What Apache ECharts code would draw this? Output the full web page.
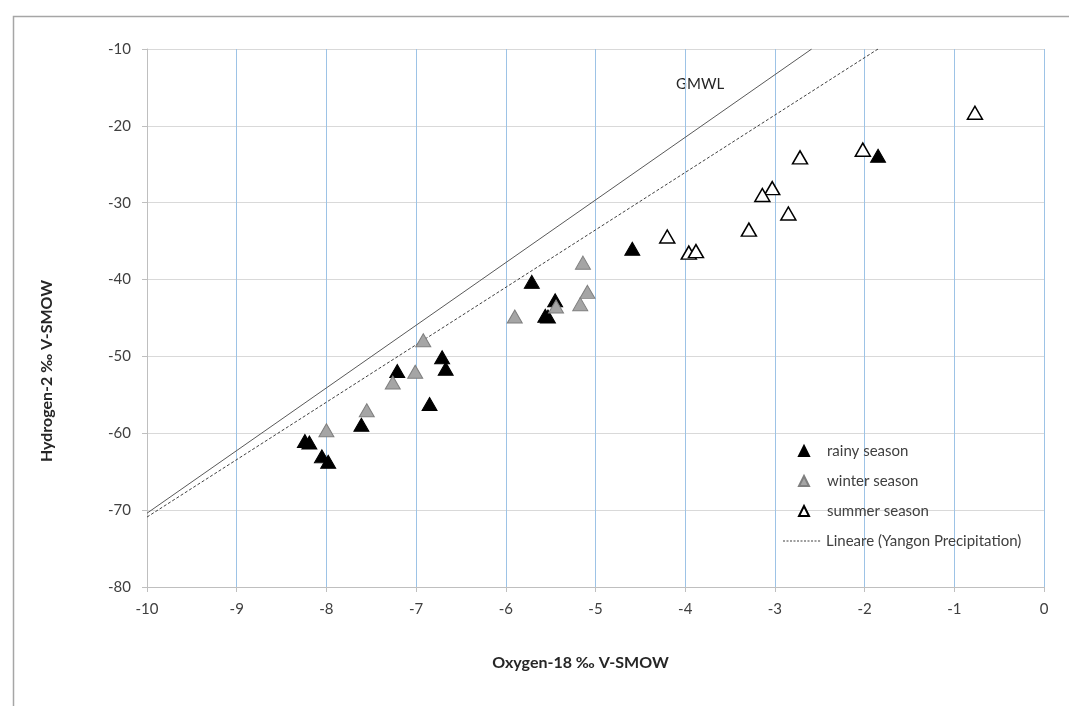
<!DOCTYPE html>
<html>
<head>
<meta charset="utf-8">
<script src="https://cdn.jsdelivr.net/npm/echarts@6/dist/echarts.min.js"></script>
<style>html,body{margin:0;padding:0;background:#fff;}#c{width:1069px;height:706px;}</style>
</head>
<body>
<div id="c"></div>
<script>
// Rainy season samples (δ18O, δ2H)
const rainyX = [-8.24, -8.19, -8.05, -7.98, -7.61, -7.21, -6.71, -6.67, -6.85, -5.71, -5.45, -5.56, -5.53, -4.59, -1.85];
const rainyY = [-61.0, -61.2, -63.0, -63.7, -58.9, -51.9, -50.1, -51.6, -56.2, -40.3, -42.7, -44.7, -44.8, -36.0, -23.9];
// Winter season samples
const winterX = [-8.00, -7.55, -7.26, -7.01, -6.92, -5.90, -5.44, -5.17, -5.09, -5.14];
const winterY = [-59.6, -57.0, -53.4, -52.0, -47.9, -44.8, -43.5, -43.2, -41.6, -37.8];
// Summer season samples
const summerX = [-0.77, -2.02, -2.72, -3.03, -3.14, -2.85, -3.29, -4.20, -3.96, -3.88];
const summerY = [-18.3, -23.1, -24.1, -28.1, -29.0, -31.4, -33.5, -34.4, -36.5, -36.3];
// Global meteoric water line (end points)
const gmwlX = [-10, -2.59];
const gmwlY = [-70.4, -10];
// Linear trend of Yangon precipitation (end points)
const trendX = [-10, -1.85];
const trendY = [-70.9, -10];
// Axis ticks
const xTicks = [-10, -9, -8, -7, -6, -5, -4, -3, -2, -1, 0];
const yTicks = [-80, -70, -60, -50, -40, -30, -20, -10];

const seriesNames = ['rainy season', 'winter season', 'summer season', 'Lineare (Yangon Precipitation)'];

const zip = (xs, ys) => xs.map((x, i) => [x, ys[i]]);
const FONT = 'Lato, "Liberation Sans", sans-serif';
const legendText = {fontSize: 15, color: '#404040', lineHeight: 18, fontFamily: FONT};

// dashed-line legend icon (38 x 1 box)
let dashPath = 'path://';
for (let x = 0; x < 37; x += 3.5) {
  const w = Math.min(2, 38 - x);
  dashPath += 'M' + x + ' 0h' + w + 'v1h-' + w + 'z ';
}
dashPath += 'M37.9 0h0.1v1h-0.1z';

const chart = echarts.init(document.getElementById('c'), null, {renderer: 'canvas'});
chart.setOption({
  backgroundColor: '#ffffff',
  animation: false,
  textStyle: {fontFamily: FONT},
  grid: {left: 147, right: 25, top: 49, bottom: 119, containLabel: false},
  graphic: [
    {type: 'rect', left: 11, top: 14, shape: {x: 0, y: 0, width: 1200, height: 900}, style: {fill: 'none', stroke: '#a6a6a6', lineWidth: 1.5}, silent: true, z: -1},
    {type: 'text', left: 676, top: 77, style: {text: 'GMWL', font: '15px ' + FONT, fill: '#262626'}}
  ],
  legend: [
    {
      orient: 'vertical', left: 793, top: 437,
      itemWidth: 10, itemHeight: 10, itemGap: 12,
      textStyle: Object.assign({padding: [0, 0, 0, 13]}, legendText),
      data: [
        {name: seriesNames[0], icon: 'triangle'},
        {name: seriesNames[1], icon: 'triangle'},
        {name: seriesNames[2], icon: 'triangle'}
      ]
    },
    {
      orient: 'vertical', left: 778, top: 527,
      itemWidth: 38, itemHeight: 1,
      symbolKeepAspect: false,
      textStyle: legendText,
      itemStyle: {color: '#404040', borderWidth: 0},
      data: [{name: seriesNames[3], icon: dashPath}]
    }
  ],
  xAxis: {
    type: 'value', min: xTicks[0], max: xTicks[xTicks.length - 1], interval: 1,
    name: 'Oxygen-18 ‰ V-SMOW', nameLocation: 'middle', nameGap: 68,
    nameTextStyle: {fontSize: 16, fontWeight: 'bold', color: '#262626', padding: [0, 30, 0, 0], fontFamily: FONT},
    axisLine: {show: true, onZero: false, lineStyle: {color: '#bfbfbf', width: 1}},
    axisTick: {show: true, inside: false, length: 5, lineStyle: {color: '#bfbfbf'}},
    axisLabel: {fontSize: 15, color: '#404040', margin: 15, fontFamily: FONT},
    splitLine: {show: true, lineStyle: {color: '#9dc3e6', width: 1}}
  },
  yAxis: {
    type: 'value', min: yTicks[0], max: yTicks[yTicks.length - 1], interval: 10,
    name: 'Hydrogen-2 ‰ V-SMOW', nameLocation: 'middle', nameGap: 92, nameRotate: 90,
    nameTextStyle: {fontSize: 16, fontWeight: 'bold', color: '#262626', padding: [0, 106, 0, 0], fontFamily: FONT},
    axisLine: {show: true, onZero: false, lineStyle: {color: '#bfbfbf', width: 1}},
    axisTick: {show: true, inside: false, length: 5, lineStyle: {color: '#bfbfbf'}},
    axisLabel: {fontSize: 15, color: '#404040', margin: 16, fontFamily: FONT},
    splitLine: {show: true, lineStyle: {color: '#d9d9d9', width: 1}}
  },
  series: [
    {
      name: 'GMWL', type: 'line', data: zip(gmwlX, gmwlY), symbol: 'none', silent: true,
      lineStyle: {color: '#595959', width: 1}, z: 1
    },
    {
      name: seriesNames[3], type: 'line', data: zip(trendX, trendY), symbol: 'none', showSymbol: false, silent: true,
      lineStyle: {color: '#404040', width: 1, type: [3, 2]}, itemStyle: {color: '#404040'}, z: 1
    },
    {
      name: seriesNames[0], type: 'scatter', data: zip(rainyX, rainyY), symbol: 'triangle', symbolSize: [15, 13],
      itemStyle: {color: '#000000', borderColor: '#000000', borderWidth: 1, opacity: 1}, z: 3
    },
    {
      name: seriesNames[1], type: 'scatter', data: zip(winterX, winterY), symbol: 'triangle', symbolSize: [15, 13],
      itemStyle: {color: '#a5a5a5', borderColor: '#7f7f7f', borderWidth: 1, opacity: 1}, z: 4
    },
    {
      name: seriesNames[2], type: 'scatter', data: zip(summerX, summerY), symbol: 'triangle', symbolSize: [15, 13],
      itemStyle: {color: '#ffffff', borderColor: '#000000', borderWidth: 1.5, opacity: 1}, z: 5
    }
  ]
});
</script>
</body>
</html>
